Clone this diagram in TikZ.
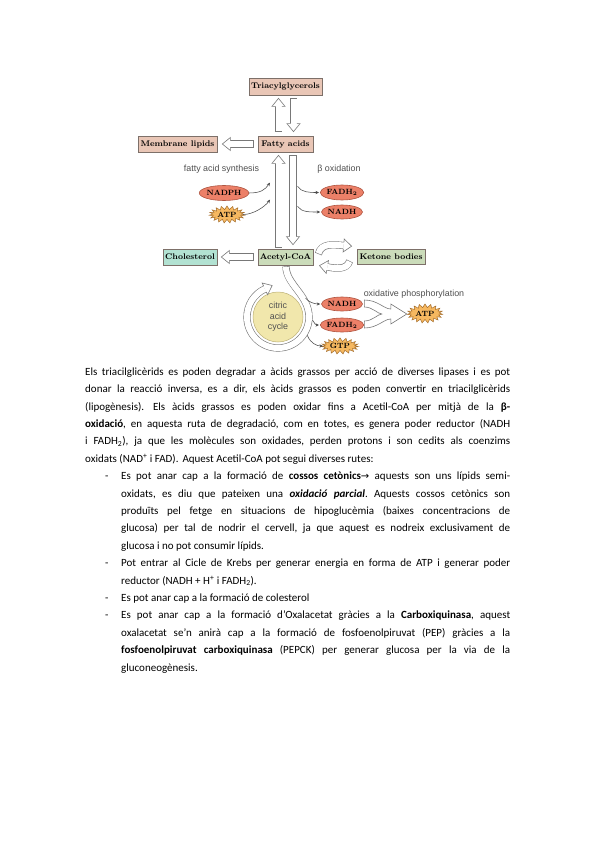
\documentclass[tikz,border=0pt]{standalone}
\usepackage{fontspec}
\newfontfamily\bodyf{Carlito}
\newfontfamily\lsans{Liberation Sans}
\newfontfamily\arrf{DejaVu Sans}
\usetikzlibrary{shapes.geometric,shapes.symbols,calc,arrows.meta}
\definecolor{boxdraw}{RGB}{125,112,105}
\definecolor{pinkfill}{RGB}{233,198,182}
\definecolor{greenfill}{RGB}{203,220,186}
\definecolor{tealfill}{RGB}{178,226,210}
\definecolor{ellfill}{RGB}{236,128,104}
\definecolor{elldraw}{RGB}{175,85,65}
\definecolor{starfill}{RGB}{246,184,96}
\definecolor{stardraw}{RGB}{165,110,45}
\definecolor{cycfill}{RGB}{241,231,172}
\definecolor{cycdraw}{RGB}{190,178,120}
\definecolor{arrdraw}{RGB}{120,120,120}
\definecolor{lblcol}{RGB}{80,80,80}
\tikzset{
 dbox/.style={draw=boxdraw, line width=0.7pt, inner sep=0pt, minimum height=16pt, font=\rmfamily\bfseries\fontsize{8.2}{9}\selectfont},
 pbox/.style={dbox, fill=pinkfill},
 gbox/.style={dbox, fill=greenfill},
 tbox/.style={dbox, fill=tealfill},
 ell/.style={ellipse, draw=elldraw, fill=ellfill, line width=0.6pt, inner sep=0pt, minimum width=41pt, minimum height=15pt, font=\rmfamily\bfseries\fontsize{7.6}{9}\selectfont},
 burst/.style={starburst, starburst points=19, starburst point height=3.5pt, random starburst=0, draw=stardraw, fill=starfill, line width=0.5pt, inner sep=0.5pt, font=\rmfamily\bfseries\fontsize{7.6}{9}\selectfont},
 lbl/.style={font=\lsans\fontsize{8.9}{10.5}\selectfont, text=lblcol, inner sep=0pt},
 thinarr/.style={draw=black!70, line width=0.55pt, -{Stealth[length=3.5pt,width=3.2pt]}},
 bandout/.style={draw=arrdraw, line width=7.2pt},
 bandin/.style={draw=white, line width=6pt, shorten <=0.6pt},
 txt/.style={anchor=base west, inner sep=0pt, font=\bodyf\fontsize{11}{13}\selectfont\frenchspacing},
}
\newcommand\ahead[2]{%
 \begin{scope}[shift={(#1)},rotate=#2]
  \fill[white] (0,-6.5) -- (8,0) -- (0,6.5) -- cycle;
  \draw[arrdraw, line width=0.6pt, line join=miter] (0,-3.3) -- (0,-6.5) -- (8,0) -- (0,6.5) -- (0,3.3);
 \end{scope}}
\newcommand\sarrow[3]{%
 \coordinate (sb) at ($(#2)!8pt!(#1)$);
 \draw[bandout] (#1) -- (sb);
 \draw[bandin] (#1) -- (sb);
 \ahead{sb}{#3}}
\newcommand\jl[1]{\makebox[425pt][s]{#1}}
\newcommand\jb[1]{\makebox[389pt][s]{#1}}
\begin{document}
\begin{tikzpicture}[x=1pt,y=1pt]
\useasboundingbox (0,0) rectangle (599,-848);
\fill[white] (0,0) rectangle (599,-848);

% boxes
\node[pbox, minimum width=73pt, minimum height=17pt] (tag) at (285.5,-86.5) {Triacylglycerols};
\node[pbox, minimum width=55pt] (fa) at (285.5,-144) {Fatty acids};
\node[pbox, minimum width=79pt] (ml) at (177.5,-144) {Membrane lipids};
\node[gbox, minimum width=55pt] (acoa) at (285.5,-257) {Acetyl-CoA};
\node[tbox, minimum width=54pt] (chol) at (190,-257) {Cholesterol};
\node[gbox, minimum width=68pt, minimum height=15pt] (ket) at (391,-256.5) {Ketone bodies};

% labels
\node[lbl] (fas) at (221.5,-169) {fatty acid synthesis};
\node[lbl] (box) at (339,-169) {β oxidation};
\node[lbl] (oxp) at (414,-294) {oxidative phosphorylation};

% cofactors
\node[ell] (nadph) at (224,-193) {NADPH};
\node[burst, minimum width=29pt, minimum height=17pt] (atp1) at (227,-214.5) {ATP};
\node[ell] (fadh1) at (342,-192.5) {FADH\textsubscript{2}};
\node[ell, minimum height=14pt] (nadh1) at (342,-212) {NADH};
\node[circle, draw=cycdraw, fill=cycfill, line width=0.5pt, minimum size=50pt, lbl, align=center] (cyc) at (278,-317) {citric\\acid\\cycle};
\node[ell, minimum height=14pt] (nadh2) at (342,-304) {NADH};
\node[ell, minimum height=14pt] (fadh2) at (342,-325) {FADH\textsubscript{2}};
\node[burst, minimum width=27pt, minimum height=15pt] (gtp) at (340,-346) {GTP};
\node[burst, minimum width=29pt, minimum height=19pt] (atp2) at (425,-313.5) {ATP};

% straight hollow arrows
\coordinate (a1t) at ($(fa.north)+(-7,4)$);
\coordinate (a1h) at ($(tag.south)+(-7,-3)$);
\sarrow{a1t}{a1h}{90}
\coordinate (a2t) at ($(tag.south)+(8,-3)$);
\coordinate (a2h) at ($(fa.north)+(8,4)$);
\sarrow{a2t}{a2h}{-90}
\coordinate (a3t) at ($(fa.west)+(-4,0)$);
\coordinate (a3h) at ($(ml.east)+(5,0)$);
\sarrow{a3t}{a3h}{180}
\coordinate (a4t) at ($(acoa.north)+(-7,1)$);
\coordinate (a4h) at ($(fa.south)+(-7,-3)$);
\sarrow{a4t}{a4h}{90}
\coordinate (a5t) at ($(fa.south)+(7.5,-3)$);
\coordinate (a5h) at ($(acoa.north)+(7.5,4)$);
\sarrow{a5t}{a5h}{-90}
\coordinate (a6t) at ($(acoa.west)+(-4,0)$);
\coordinate (a6h) at ($(chol.east)+(4,0)$);
\sarrow{a6t}{a6h}{180}

% thin arrows, fatty acid synthesis / beta oxidation
\draw[thinarr] (nadph.east) .. controls +(12,0) and +(-5,-7) .. ($(a4t)+(-8.5,65)$);
\draw[thinarr] (atp1.east) .. controls +(10,0) and +(-5,-7) .. ($(a4t)+(-8.5,48)$);
\draw[thinarr] ($(a5t)+(4.5,-31)$) .. controls +(4,-6) and +(-10,0) .. ($(fadh1.west)+(-1,0)$);
\draw[thinarr] ($(a5t)+(4.5,-51)$) .. controls +(4,-6) and +(-10,0) .. ($(nadh1.west)+(-1,0)$);

% ketone bodies curved arrows
\coordinate (k1s) at ($(acoa.east)+(5,3)$);
\coordinate (k1e) at ($(ket.west)+(-13,11)$);
\draw[bandout] (k1s) .. controls +(3,11) and +(-11,1) .. (k1e);
\draw[bandin] (k1s) .. controls +(3,11) and +(-11,1) .. (k1e);
\ahead{k1e}{-5}
\coordinate (k2s) at ($(ket.west)+(-7,-4.5)$);
\coordinate (k2e) at ($(acoa.east)+(14,-10)$);
\draw[bandout] (k2s) .. controls +(-3,-9) and +(9,-1.5) .. (k2e);
\draw[bandin] (k2s) .. controls +(-3,-9) and +(9,-1.5) .. (k2e);
\ahead{k2e}{170}

% citric acid cycle band
\coordinate (cs) at ($(acoa.south)+(0.5,-1)$);
\coordinate (ce) at ($(cyc.center)+(115:31)$);
\draw[bandout] (cs) .. controls +(0,-18) and +(0,22) .. ($(cyc.center)+(31,0)$) arc[start angle=0,end angle=-245,radius=31];
\draw[bandin] (cs) .. controls +(0,-18) and +(0,22) .. ($(cyc.center)+(31,0)$) arc[start angle=0,end angle=-245,radius=31];
\ahead{ce}{25}

\draw[thinarr] ($(cyc.center)+(27.5,19)$) .. controls +(3,-4) and +(-6,0) .. ($(nadh2.west)+(-1,0)$);
\draw[thinarr] ($(cyc.center)+(-5:34.6)$) .. controls +(3,-4) and +(-4,0) .. ($(fadh2.west)+(-1,0)$);
\draw[thinarr] ($(cyc.center)+(-32:34.6)$) .. controls +(3,-8) and +(-6,0) .. (gtp.west);

% merging hollow arrow to ATP
\begin{scope}[shift={(nadh2.east)}]
\draw[arrdraw, fill=white, line width=0.6pt, line join=miter]
 (1.5,4) .. controls (15,4) and (21,-5) .. (28,-5) -- (28,0) -- (44,-10) -- (28,-20) -- (28,-15)
 .. controls (21,-15) and (15,-24) .. (1.5,-24) -- (1.5,-17)
 .. controls (10,-17) and (15,-10) .. (19,-10)
 .. controls (15,-10) and (10,-3) .. (1.5,-3) -- cycle;
\end{scope}

% text
\node[txt] (p1) at (85,-375.2) {\jl{Els triacilglicèrids es poden degradar a àcids grassos per acció de diverses lipases i es pot}};
\node[txt] (p2) at (85,-392.6) {\jl{donar la reacció inversa, es a dir, els àcids grassos es poden convertir en triacilglicèrids}};
\node[txt] (p3) at (85,-410.0) {\jl{(lipogènesis).\hspace{2pt} Els àcids grassos es poden oxidar fins a Acetil-CoA per mitjà de la \textbf{β-}}};
\node[txt] (p4) at (85,-427.4) {\jl{\textbf{oxidació}, en aquesta ruta de degradació, com en totes, es genera poder reductor (NADH}};
\node[txt] (p5) at (85,-444.8) {\jl{i FADH\textsubscript{2}), ja que les molècules son oxidades, perden protons i son cedits als coenzims}};
\node[txt] (p6) at (85,-462.2) {oxidats (NAD\textsuperscript{+} i FAD).\hspace{1.5pt} Aquest Acetil-CoA pot segui diverses rutes:};

\node[txt] (d1) at (105,-479.6) {-};
\node[txt] (b1a) at (121,-479.6) {\jb{Es pot anar cap a la formació de \textbf{cossos cetònics}{\arrf\fontsize{10}{10}\selectfont →} aquests son uns lípids semi-}};
\node[txt] (b1b) at (121,-497.0) {\jb{oxidats, es diu que pateixen una \textbf{\textit{oxidació parcial}}. Aquests cossos cetònics son}};
\node[txt] (b1c) at (121,-514.4) {\jb{produïts pel fetge en situacions de hipoglucèmia (baixes concentracions de}};
\node[txt] (b1d) at (121,-531.8) {\jb{glucosa) per tal de nodrir el cervell, ja que aquest es nodreix exclusivament de}};
\node[txt] (b1e) at (121,-549.2) {glucosa i no pot consumir lípids.};

\node[txt] (d2) at (105,-566.6) {-};
\node[txt] (b2a) at (121,-566.6) {\jb{Pot entrar al Cicle de Krebs per generar energia en forma de ATP i generar poder}};
\node[txt] (b2b) at (121,-584.0) {reductor (NADH + H\textsuperscript{+} i FADH\textsubscript{2}).};

\node[txt] (d3) at (105,-601.4) {-};
\node[txt] (b3a) at (121,-601.4) {Es pot anar cap a la formació de colesterol};

\node[txt] (d4) at (105,-618.8) {-};
\node[txt] (b4a) at (121,-618.8) {\jb{Es pot anar cap a la formació d’Oxalacetat gràcies a la \textbf{Carboxiquinasa}, aquest}};
\node[txt] (b4b) at (121,-636.2) {\jb{oxalacetat se’n anirà cap a la formació de fosfoenolpiruvat (PEP) gràcies a la}};
\node[txt] (b4c) at (121,-653.6) {\jb{\textbf{fosfoenolpiruvat carboxiquinasa} (PEPCK) per generar glucosa per la via de la}};
\node[txt] (b4d) at (121,-671.0) {gluconeogènesis.};
\end{tikzpicture}
\end{document}
